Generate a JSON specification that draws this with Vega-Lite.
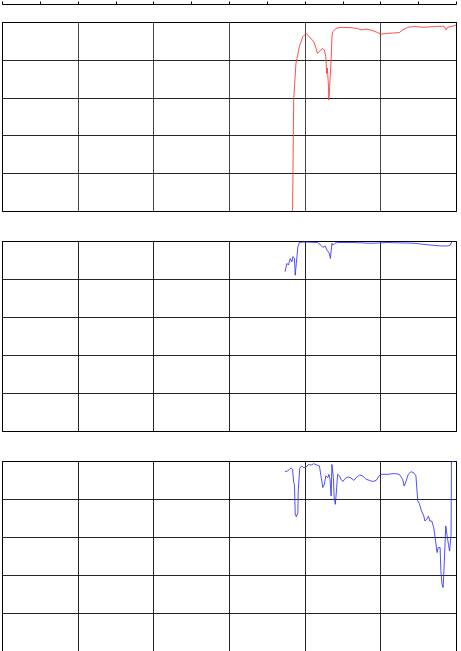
{
  "$schema": "https://vega.github.io/schema/vega-lite/v6.json",
  "padding": {"left": 1, "top": 0, "right": 0, "bottom": 0},
  "autosize": {"type": "pad"},
  "background": "white",
  "spacing": 28,
  "config": {
    "view": {"stroke": "black", "strokeWidth": 1},
    "axis": {"minExtent": 0, "maxExtent": 0, "labels": false, "labelPadding": 0, "title": null, "domain": false, "ticks": false, "gridColor": "black", "gridOpacity": 0.85, "gridWidth": 1}
  },
  "datasets": {
    "red": [
      {"u": 7.46, "v": -0.05}, {"u": 7.68, "v": -0.05}, {"u": 7.71, "v": 2.94}, {"u": 7.77, "v": 3.91},
      {"u": 7.86, "v": 4.35}, {"u": 7.95, "v": 4.61}, {"u": 8.04, "v": 4.70}, {"u": 8.12, "v": 4.61},
      {"u": 8.24, "v": 4.48}, {"u": 8.30, "v": 4.30}, {"u": 8.34, "v": 4.17}, {"u": 8.41, "v": 4.24},
      {"u": 8.48, "v": 4.30}, {"u": 8.52, "v": 4.26}, {"u": 8.56, "v": 4.08}, {"u": 8.58, "v": 3.64},
      {"u": 8.60, "v": 3.78}, {"u": 8.63, "v": 3.29}, {"u": 8.64, "v": 2.94}, {"u": 8.66, "v": 3.29},
      {"u": 8.70, "v": 4.0}, {"u": 8.72, "v": 4.61}, {"u": 8.74, "v": 4.74}, {"u": 8.83, "v": 4.83},
      {"u": 8.96, "v": 4.86}, {"u": 9.23, "v": 4.85}, {"u": 9.40, "v": 4.83}, {"u": 9.49, "v": 4.79},
      {"u": 9.62, "v": 4.81}, {"u": 9.75, "v": 4.79}, {"u": 9.93, "v": 4.72}, {"u": 10.02, "v": 4.68},
      {"u": 10.20, "v": 4.70}, {"u": 10.50, "v": 4.72}, {"u": 10.59, "v": 4.79}, {"u": 10.72, "v": 4.86},
      {"u": 10.90, "v": 4.88}, {"u": 11.16, "v": 4.86}, {"u": 11.43, "v": 4.88}, {"u": 11.65, "v": 4.89},
      {"u": 11.69, "v": 4.88}, {"u": 11.74, "v": 4.79}, {"u": 11.78, "v": 4.86}, {"u": 11.91, "v": 4.89},
      {"u": 12.0, "v": 4.92}
    ],
    "blue1": [
      {"u": 7.48, "v": 4.19}, {"u": 7.53, "v": 4.41}, {"u": 7.57, "v": 4.37}, {"u": 7.62, "v": 4.54},
      {"u": 7.66, "v": 4.45}, {"u": 7.69, "v": 4.59}, {"u": 7.73, "v": 4.54}, {"u": 7.75, "v": 4.10},
      {"u": 7.78, "v": 4.41}, {"u": 7.82, "v": 4.85}, {"u": 7.86, "v": 4.96}, {"u": 7.95, "v": 4.97},
      {"u": 8.08, "v": 4.97}, {"u": 8.34, "v": 4.96}, {"u": 8.43, "v": 4.89}, {"u": 8.48, "v": 4.83},
      {"u": 8.54, "v": 4.87}, {"u": 8.59, "v": 4.76}, {"u": 8.65, "v": 4.68}, {"u": 8.68, "v": 4.54},
      {"u": 8.72, "v": 4.94}, {"u": 8.75, "v": 4.89}, {"u": 8.80, "v": 4.94}, {"u": 8.87, "v": 4.96},
      {"u": 9.31, "v": 4.96}, {"u": 9.75, "v": 4.94}, {"u": 10.20, "v": 4.96}, {"u": 10.90, "v": 4.94},
      {"u": 11.25, "v": 4.90}, {"u": 11.60, "v": 4.87}, {"u": 11.78, "v": 4.87}, {"u": 11.85, "v": 4.89},
      {"u": 11.89, "v": 4.98}, {"u": 11.91, "v": 5.0}
    ],
    "blue2": [
      {"u": 7.48, "v": 4.72}, {"u": 7.55, "v": 4.74}, {"u": 7.60, "v": 4.78}, {"u": 7.64, "v": 4.82},
      {"u": 7.68, "v": 4.78}, {"u": 7.71, "v": 4.43}, {"u": 7.73, "v": 4.39}, {"u": 7.75, "v": 3.60},
      {"u": 7.78, "v": 3.53}, {"u": 7.82, "v": 3.64}, {"u": 7.83, "v": 4.21}, {"u": 7.87, "v": 4.81},
      {"u": 7.92, "v": 4.87}, {"u": 7.98, "v": 4.82}, {"u": 8.04, "v": 4.84}, {"u": 8.10, "v": 4.91},
      {"u": 8.17, "v": 4.89}, {"u": 8.24, "v": 4.93}, {"u": 8.33, "v": 4.89}, {"u": 8.39, "v": 4.87},
      {"u": 8.43, "v": 4.61}, {"u": 8.48, "v": 4.30}, {"u": 8.52, "v": 4.39}, {"u": 8.56, "v": 4.61},
      {"u": 8.61, "v": 4.56}, {"u": 8.64, "v": 4.65}, {"u": 8.67, "v": 4.52}, {"u": 8.70, "v": 4.08},
      {"u": 8.72, "v": 4.91}, {"u": 8.76, "v": 4.56}, {"u": 8.78, "v": 4.03}, {"u": 8.81, "v": 3.86},
      {"u": 8.84, "v": 4.21}, {"u": 8.87, "v": 4.65}, {"u": 8.92, "v": 4.61}, {"u": 8.96, "v": 4.52},
      {"u": 9.01, "v": 4.46}, {"u": 9.07, "v": 4.54}, {"u": 9.14, "v": 4.58}, {"u": 9.21, "v": 4.56},
      {"u": 9.30, "v": 4.49}, {"u": 9.36, "v": 4.56}, {"u": 9.45, "v": 4.63}, {"u": 9.53, "v": 4.61},
      {"u": 9.62, "v": 4.52}, {"u": 9.71, "v": 4.49}, {"u": 9.80, "v": 4.46}, {"u": 9.89, "v": 4.49},
      {"u": 9.97, "v": 4.61}, {"u": 10.02, "v": 4.65}, {"u": 10.20, "v": 4.65}, {"u": 10.37, "v": 4.67},
      {"u": 10.50, "v": 4.65}, {"u": 10.59, "v": 4.52}, {"u": 10.63, "v": 4.34}, {"u": 10.68, "v": 4.47},
      {"u": 10.74, "v": 4.65}, {"u": 10.81, "v": 4.72}, {"u": 10.88, "v": 4.69}, {"u": 10.94, "v": 4.61},
      {"u": 10.99, "v": 3.95}, {"u": 11.03, "v": 3.88}, {"u": 11.09, "v": 3.68}, {"u": 11.15, "v": 3.55},
      {"u": 11.18, "v": 3.42}, {"u": 11.23, "v": 3.47}, {"u": 11.27, "v": 3.55}, {"u": 11.31, "v": 3.42},
      {"u": 11.36, "v": 3.42}, {"u": 11.41, "v": 3.25}, {"u": 11.45, "v": 2.98}, {"u": 11.50, "v": 2.59},
      {"u": 11.53, "v": 2.72}, {"u": 11.58, "v": 2.72}, {"u": 11.60, "v": 2.11}, {"u": 11.63, "v": 1.76},
      {"u": 11.66, "v": 1.67}, {"u": 11.68, "v": 2.11}, {"u": 11.73, "v": 3.29}, {"u": 11.76, "v": 3.07},
      {"u": 11.80, "v": 2.81}, {"u": 11.83, "v": 2.63}, {"u": 11.87, "v": 3.07}, {"u": 11.88, "v": 4.98},
      {"u": 11.97, "v": 5.0}
    ]
  },
  "vconcat": [
    {
      "width": 454,
      "height": 189,
      "data": {"name": "red"},
      "mark": {"type": "line", "color": "#ff3030", "strokeWidth": 1, "opacity": 0.85, "clip": true},
      "encoding": {
        "x": {"field": "u", "type": "quantitative", "scale": {"domain": [0, 12], "nice": false, "zero": false},
          "axis": {"orient": "top", "offset": 18, "domain": true, "domainColor": "black", "domainWidth": 1, "ticks": true, "tickSize": 3, "tickColor": "black", "tickOpacity": 1, "tickWidth": 1, "values": [0,1,2,3,4,5,6,7,8,9,10,11,12],
            "gridOpacity": {"condition": {"test": "datum.value % 2 === 1", "value": 0}, "value": 0.85}}},
        "y": {"field": "v", "type": "quantitative", "scale": {"domain": [0, 5], "nice": false}, "axis": {"values": [0,1,2,3,4,5]}}
      }
    },
    {
      "width": 454,
      "height": 190,
      "data": {"name": "blue1"},
      "mark": {"type": "line", "color": "#3030ff", "strokeWidth": 1, "opacity": 0.85, "clip": true},
      "encoding": {
        "x": {"field": "u", "type": "quantitative", "scale": {"domain": [0, 12], "nice": false, "zero": false}, "axis": {"values": [0,2,4,6,8,10,12]}},
        "y": {"field": "v", "type": "quantitative", "scale": {"domain": [0, 5], "nice": false}, "axis": {"values": [0,1,2,3,4,5]}}
      }
    },
    {
      "width": 454,
      "height": 190,
      "data": {"name": "blue2"},
      "mark": {"type": "line", "color": "#3030ff", "strokeWidth": 1, "opacity": 0.85, "clip": true},
      "encoding": {
        "x": {"field": "u", "type": "quantitative", "scale": {"domain": [0, 12], "nice": false, "zero": false}, "axis": {"values": [0,2,4,6,8,10,12]}},
        "y": {"field": "v", "type": "quantitative", "scale": {"domain": [0, 5], "nice": false}, "axis": {"values": [0,1,2,3,4,5]}}
      }
    }
  ]
}
